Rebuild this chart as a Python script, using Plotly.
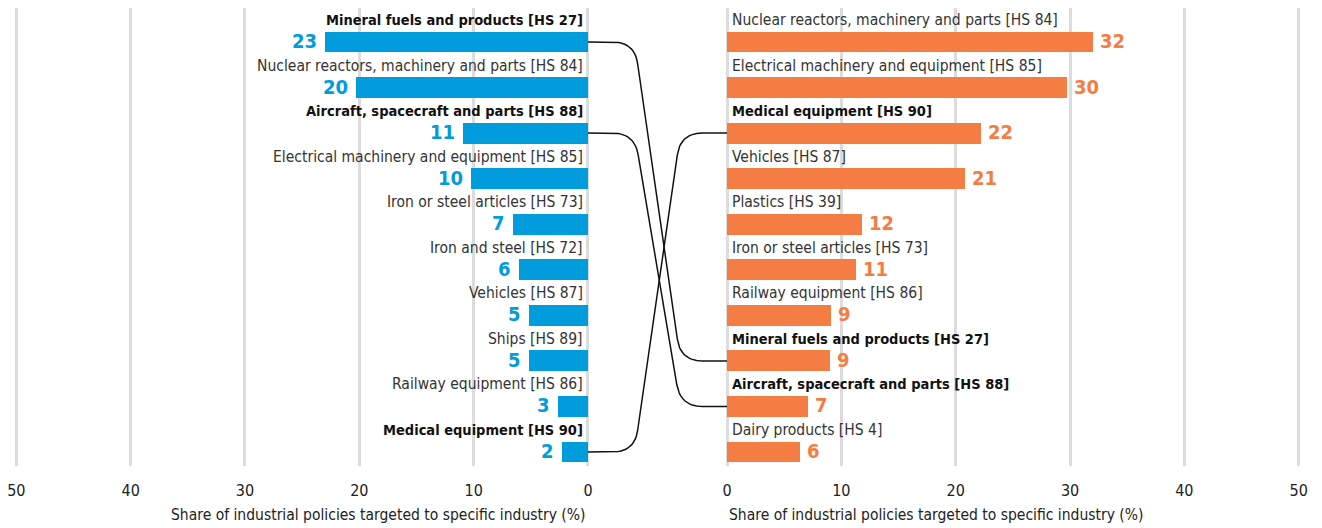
import plotly.graph_objects as go

# ---------------- data ----------------
left_labels = [
    "Mineral fuels and products [HS 27]",
    "Nuclear reactors, machinery and parts [HS 84]",
    "Aircraft, spacecraft and parts [HS 88]",
    "Electrical machinery and equipment [HS 85]",
    "Iron or steel articles [HS 73]",
    "Iron and steel [HS 72]",
    "Vehicles [HS 87]",
    "Ships [HS 89]",
    "Railway equipment [HS 86]",
    "Medical equipment [HS 90]",
]
left_values = [23.0, 20.3, 10.9, 10.2, 6.6, 6.0, 5.2, 5.2, 2.6, 2.3]

right_labels = [
    "Nuclear reactors, machinery and parts [HS 84]",
    "Electrical machinery and equipment [HS 85]",
    "Medical equipment [HS 90]",
    "Vehicles [HS 87]",
    "Plastics [HS 39]",
    "Iron or steel articles [HS 73]",
    "Railway equipment [HS 86]",
    "Mineral fuels and products [HS 27]",
    "Aircraft, spacecraft and parts [HS 88]",
    "Dairy products [HS 4]",
]
right_values = [32.0, 29.7, 22.2, 20.8, 11.8, 11.3, 9.1, 9.0, 7.1, 6.4]

highlighted = [
    "Mineral fuels and products [HS 27]",
    "Aircraft, spacecraft and parts [HS 88]",
    "Medical equipment [HS 90]",
]

tick_values = [0, 10, 20, 30, 40, 50]
axis_title = "Share of industrial policies targeted to specific industry (%)"

# ---------------- style ----------------
BLUE = "#009CDB"
ORANGE = "#F47D43"
GRID = "#dcdcdc"
FONT = "DejaVu Sans Condensed, DejaVu Sans, sans-serif"

# page body has an 8px default margin; size the figure so it fits the window
W, H = 1306, 520
ML, MR, MT, MB = 5.7, 12.7, 0, 62
GAP = 6.08          # half gap between the two panels (axis units)
PAD = 0.2           # small padding so edge gridlines are drawn
XMAX = 50 + GAP + PAD
Y_TOP, Y_BOT = 0.746, -9.307

sx = (W - ML - MR) / (2 * XMAX)          # px per x unit
sy = (H - MT - MB) / (Y_TOP - Y_BOT)     # px per y unit

n = len(left_labels)
rows = [-i for i in range(n)]

fig = go.Figure()

# bars
fig.add_trace(go.Bar(
    y=rows, x=[-v for v in left_values], base=[-GAP] * n, orientation="h",
    marker=dict(color=BLUE, line=dict(width=0)), width=0.46,
    hoverinfo="skip", showlegend=False,
))
fig.add_trace(go.Bar(
    y=rows, x=right_values, base=[GAP] * n, orientation="h",
    marker=dict(color=ORANGE, line=dict(width=0)), width=0.46,
    hoverinfo="skip", showlegend=False,
))

annotations = []


def cat_font(bold):
    return dict(family=FONT, size=14.5 if bold else 15.5,
                color="#111111" if bold else "#333333")


for i, (lab, v) in enumerate(zip(left_labels, left_values)):
    bold = lab in highlighted
    annotations.append(dict(
        x=-GAP, y=rows[i], xref="x", yref="y", xanchor="right", yanchor="middle",
        yshift=22, xshift=-3, showarrow=False,
        text=f"<b>{lab}</b>" if bold else lab, font=cat_font(bold),
    ))
    annotations.append(dict(
        x=-GAP - v, y=rows[i], xref="x", yref="y", xanchor="right", yanchor="middle",
        xshift=-6, yshift=1, showarrow=False,
        text=f"<b>{v:.0f}</b>",
        font=dict(family=FONT, size=20, color=BLUE),
    ))
for i, (lab, v) in enumerate(zip(right_labels, right_values)):
    bold = lab in highlighted
    annotations.append(dict(
        x=GAP, y=rows[i], xref="x", yref="y", xanchor="left", yanchor="middle",
        yshift=22, xshift=3, showarrow=False,
        text=f"<b>{lab}</b>" if bold else lab, font=cat_font(bold),
    ))
    annotations.append(dict(
        x=GAP + v, y=rows[i], xref="x", yref="y", xanchor="left", yanchor="middle",
        xshift=5, yshift=1, showarrow=False,
        text=f"<b>{v:.0f}</b>",
        font=dict(family=FONT, size=20, color=ORANGE),
    ))

# axis titles
title_y = -(507 - (H - MB)) / (H - MT - MB)
for xa, anchor in ((-GAP, "right"), (GAP, "left")):
    annotations.append(dict(
        x=xa, y=title_y, xref="x", yref="paper", xanchor=anchor, yanchor="middle",
        showarrow=False, text=axis_title,
        font=dict(family=FONT, size=15.5, color="#222222"),
    ))


# connectors (computed in pixel space, converted back to data)
def qbez(a, c, b, k=14):
    pts = []
    for j in range(k + 1):
        t = j / k
        pts.append(((1 - t) ** 2 * a[0] + 2 * (1 - t) * t * c[0] + t ** 2 * b[0],
                    (1 - t) ** 2 * a[1] + 2 * (1 - t) * t * c[1] + t ** 2 * b[1]))
    return pts


def connector(yl, yr, d=23.0, r=22.0):
    p0 = (-GAP * sx, yl * sy)
    p3 = (GAP * sx, yr * sy)
    v1 = (-d, yl * sy)
    v2 = (d, yr * sy)
    dx, dy = v2[0] - v1[0], v2[1] - v1[1]
    L = (dx ** 2 + dy ** 2) ** 0.5
    u = (dx / L, dy / L)
    a = (v1[0] - r, v1[1])
    b = (v1[0] + r * u[0], v1[1] + r * u[1])
    c = (v2[0] - r * u[0], v2[1] - r * u[1])
    e = (v2[0] + r, v2[1])
    pts = [p0] + qbez(a, v1, b) + qbez(c, v2, e) + [p3]
    return [p[0] / sx for p in pts], [p[1] / sy for p in pts]


for name in highlighted:
    li = left_labels.index(name)
    ri = right_labels.index(name)
    xs, ys = connector(rows[li], rows[ri])
    fig.add_trace(go.Scatter(
        x=xs, y=ys, mode="lines", line=dict(color="#111111", width=1.5),
        hoverinfo="skip", showlegend=False,
    ))

tickvals = [-GAP - t for t in tick_values] + [GAP + t for t in tick_values]
ticktext = [str(t) for t in tick_values] * 2

fig.update_layout(
    width=W, height=H,
    margin=dict(l=ML, r=MR, t=MT, b=MB, autoexpand=False),
    paper_bgcolor="white", plot_bgcolor="white",
    barmode="overlay", bargap=0,
    annotations=annotations,
    font=dict(family=FONT, size=16, color="#222222"),
    xaxis=dict(
        range=[-XMAX, XMAX], tickvals=tickvals, ticktext=ticktext,
        showgrid=True, gridcolor=GRID, gridwidth=2.5, zeroline=False,
        showline=False, ticks="outside", ticklen=10, tickcolor="rgba(0,0,0,0)",
        tickfont=dict(family=FONT, size=16, color="#222222"), fixedrange=True,
        automargin=False, ticklabeloverflow="allow",
    ),
    yaxis=dict(
        range=[Y_BOT, Y_TOP], showgrid=False, zeroline=False, showticklabels=False,
        showline=False, fixedrange=True,
    ),
)

fig.write_html("out.html")
